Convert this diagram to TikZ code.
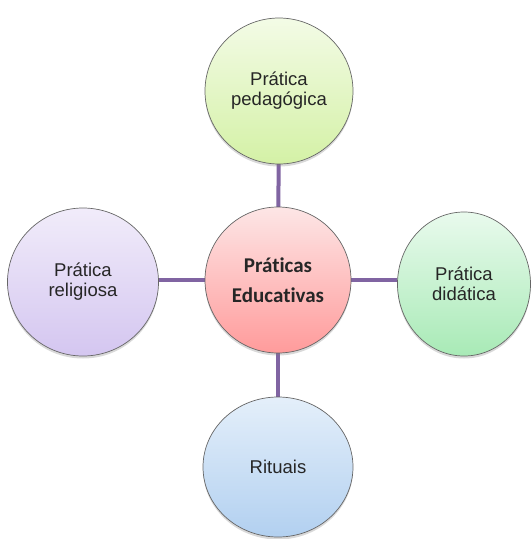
\documentclass[tikz,border=0pt]{standalone}
\usepackage{fontspec}
\setmainfont{Liberation Sans}
\newfontfamily\calfont[Ligatures=NoCommon]{Carlito}
\usetikzlibrary{shapes.geometric,shadows,backgrounds}
\definecolor{linkc}{RGB}{128,100,162}
\definecolor{gtop}{RGB}{243,251,230}
\definecolor{gbot}{RGB}{212,241,166}
\definecolor{ptop}{RGB}{253,230,230}
\definecolor{pbot}{RGB}{255,155,155}
\definecolor{ltop}{RGB}{241,236,250}
\definecolor{lbot}{RGB}{212,198,240}
\definecolor{mtop}{RGB}{233,250,237}
\definecolor{mbot}{RGB}{168,234,182}
\definecolor{btop}{RGB}{228,239,250}
\definecolor{bbot}{RGB}{178,208,240}
\begin{document}
\begin{tikzpicture}[x=1pt,y=-1pt,
  bub/.style={ellipse, draw=black!60, line width=0.7pt, inner sep=0pt,
    align=center, text=black!85, font=\fontsize{18.5}{20}\selectfont,
    shading=axis, shading angle=0,
    drop shadow={shadow xshift=0pt, shadow yshift=-2.5pt, opacity=0.3}},
  link/.style={draw=linkc, line width=4pt}]
\useasboundingbox (0,0) rectangle (532,539);
\node[bub, minimum width=148pt, minimum height=146pt, top color=gtop, bottom color=gbot] (top) at (279,91) {Prática\\pedagógica};
\node[bub, minimum width=146pt, minimum height=146pt, top color=ptop, bottom color=pbot,
      font=\calfont\bfseries\fontsize{21}{30}\selectfont] (mid) at (278,280) {Práticas\\Educativas};
\node[bub, minimum width=151pt, minimum height=148pt, top color=ltop, bottom color=lbot] (left) at (83,282) {Prática\\religiosa};
\node[bub, minimum width=133pt, minimum height=144pt, top color=mtop, bottom color=mbot] (right) at (464,284) {Prática\\didática};
\node[bub, minimum width=150pt, minimum height=140pt, top color=btop, bottom color=bbot] (bot) at (278,467) {Rituais};
\begin{scope}[on background layer]
\draw[link] (top.center) -- (mid.center);
\draw[link] (mid.center) -- (bot.center);
\draw[link] (left.center |- mid.center) -- (right.center |- mid.center);
\end{scope}
\end{tikzpicture}
\end{document}
